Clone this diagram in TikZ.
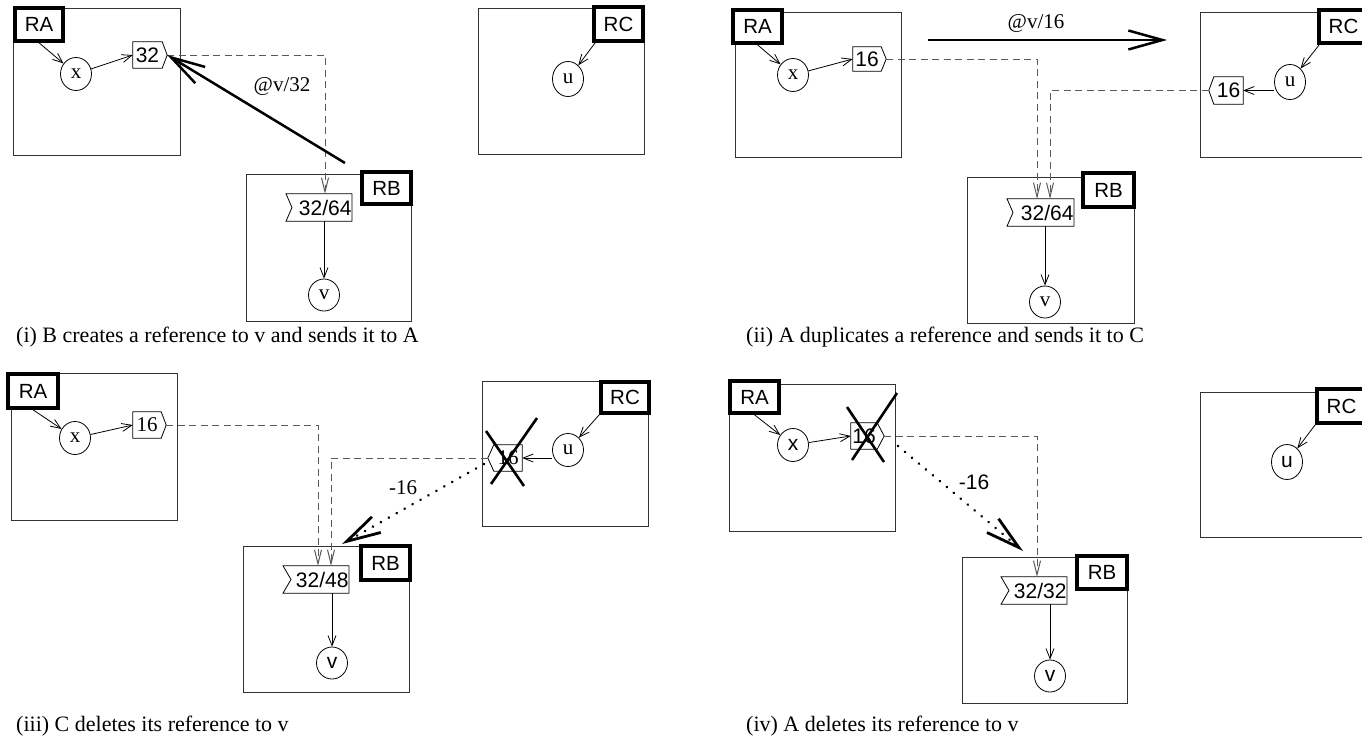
\documentclass[tikz,border=0pt]{standalone}
\usepackage{fontspec}
\setmainfont{Liberation Serif}
\setsansfont{Liberation Sans}
\usetikzlibrary{arrows.meta,shapes.geometric,calc}
\newcommand\myfs[1]{\fontsize{#1}{#1}\selectfont}
\begin{document}
\begin{tikzpicture}[x=1pt,y=-1pt,
  region/.style={draw=black!80, line width=1pt},
  lbl/.style={draw, line width=3.6pt, fill=white, inner sep=0pt, font=\sffamily\myfs{20.5}},
  obj/.style={draw, ellipse, inner sep=0pt, line width=0.8pt, minimum width=31pt, minimum height=33pt, font=\myfs{21}},
  refbox/.style={inner sep=0pt, font=\sffamily\myfs{21}},
  outline/.style={line width=0.8pt},
  flagbox/.style={inner xsep=0.3pt, inner ysep=0pt, text width=#1, align=right, minimum height=27pt, font=\sffamily\myfs{21}},
  arr/.style={-{Straight Barb[length=10pt,width=8pt]}, line width=0.8pt},
  dsh/.style={draw=black!65, line width=1pt, dash pattern=on 7pt off 4.5pt, -{Straight Barb[length=14pt,width=7pt]}},
  msg/.style={line width=2.5pt, -{Straight Barb[length=34pt,width=19pt]}},
  dotarr/.style={line width=2.8pt, line cap=round, dash pattern=on 0.1pt off 9pt, -{Straight Barb[length=34pt,width=18pt]}},
  xline/.style={line width=2.6pt},
  captxt/.style={anchor=base west, inner sep=0pt, font=\myfs{22}},
  lab/.style={inner sep=0pt, font=\myfs{21}},
]
\useasboundingbox (0,0) rectangle (1362,740);

% ================= panel (i)
\draw[region] (13,8) rectangle (180,155);
\draw[region] (246,174) rectangle (411,321);
\draw[region] (478,8) rectangle (644,154);
\node[lbl, minimum width=48pt, minimum height=33pt] (la1) at (39,24.5) {RA};
\node[lbl, minimum width=49pt, minimum height=32pt] (lb1) at (386.5,188) {RB};
\node[lbl, minimum width=49pt, minimum height=34pt] (lc1) at (618.5,24) {RC};
\node[obj] (x1) at (76,74) {x};
\node[refbox, minimum width=29pt, minimum height=26pt] (p1) at (147.5,55) {32};
\draw[outline] (p1.north west) -- (p1.north east) -- ([xshift=5pt]p1.east) -- (p1.south east) -- (p1.south west) -- cycle;
\coordinate (p1t) at ([xshift=5pt]p1.east);
\node[flagbox=65pt] (f1) at (319,207.5) {32/64};
\draw[outline] (f1.north west) -- (f1.north east) -- (f1.south east) -- (f1.south west) -- ([xshift=6pt]f1.west) -- cycle;
\node[obj, minimum height=32pt] (v1) at (324,295) {v};
\node[obj, minimum height=35pt] (u1) at (568,79) {u};
\draw[arr] (la1.south) -- (x1);
\draw[arr] (x1) -- (p1.west);
\draw[dsh] (p1t) -| ([xshift=6pt]f1.north);
\draw[arr] (f1.south -| v1) -- (v1);
\draw[arr] ([xshift=3pt]lc1.south west) -- (u1);
\coordinate (s1) at (345,163);
\draw[msg] (s1) -- (p1t);
\node[lab] (m1) at (282,86) {@v/32};
\node[captxt] (c1) at (16,342) {(i) B creates a reference to v and sends it to A};

% ================= panel (ii)
\draw[region] (735,12) rectangle (901,157);
\draw[region] (967,177) rectangle (1134,323);
\draw[region] (1200,12) rectangle (1380,157);
\node[lbl, minimum width=49pt, minimum height=33pt] (la2) at (757.5,26.5) {RA};
\node[lbl, minimum width=51pt, minimum height=34pt] (lb2) at (1108.5,190) {RB};
\node[lbl, minimum width=49pt, minimum height=33pt] (lc2) at (1343.5,26.5) {RC};
\node[obj] (x2) at (793,75) {x};
\node[refbox, minimum width=28pt, minimum height=24pt] (p2) at (867,59) {16};
\draw[outline] (p2.north west) -- (p2.north east) -- ([xshift=5pt]p2.east) -- (p2.south east) -- (p2.south west) -- cycle;
\coordinate (p2t) at ([xshift=5pt]p2.east);
\node[obj, minimum height=35pt] (u2) at (1290,82) {u};
\node[refbox, minimum width=29pt, minimum height=27pt] (q2) at (1228.5,90.5) {16};
\draw[outline] (q2.north east) -- (q2.north west) -- ([xshift=-5pt]q2.west) -- (q2.south west) -- (q2.south east) -- cycle;
\coordinate (q2t) at ([xshift=-5pt]q2.west);
\node[flagbox=66pt] (f2) at (1040.5,212.5) {32/64};
\draw[outline] (f2.north west) -- (f2.north east) -- (f2.south east) -- (f2.south west) -- ([xshift=6pt]f2.west) -- cycle;
\node[obj, minimum height=32pt] (v2) at (1045,302) {v};
\draw[arr] (la2.south) -- (x2);
\draw[arr] (x2) -- (p2.west);
\draw[arr] ([xshift=2pt]lc2.south west) -- (u2);
\draw[arr] (u2.west |- q2) -- (q2.east);
\draw[dsh] (p2t) -| ([xshift=-3.5pt]f2.north);
\draw[dsh] (q2t) -| ([xshift=9.5pt]f2.north);
\draw[arr] (f2.south -| v2) -- (v2);
\coordinate (s2) at (928,40);
\coordinate (e2) at (1167,40);
\draw[msg] (s2) -- (e2);
\node[lab] (m2) at (1036,23) {@v/16};
\node[captxt] (c2) at (746,342) {(ii) A duplicates a reference and sends it to C};

% ================= panel (iii)
\draw[region] (11,373) rectangle (177,520);
\draw[region] (243,546) rectangle (409,692);
\draw[region] (482,381) rectangle (648,526);
\node[lbl, minimum width=50pt, minimum height=34pt] (la3) at (33,391) {RA};
\node[lbl, minimum width=49pt, minimum height=34pt] (lb3) at (385.5,563) {RB};
\node[lbl, minimum width=48pt, minimum height=31pt] (lc3) at (625,397.5) {RC};
\node[obj] (x3) at (75,438) {x};
\node[refbox, font=\rmfamily\myfs{21}, minimum width=28pt, minimum height=26pt] (p3) at (147,425) {16};
\draw[outline] (p3.north west) -- (p3.north east) -- ([xshift=5pt]p3.east) -- (p3.south east) -- (p3.south west) -- cycle;
\coordinate (p3t) at ([xshift=5pt]p3.east);
\node[obj] (u3) at (568,450) {u};
\node[refbox, font=\rmfamily\myfs{21}, minimum width=28pt, minimum height=26pt] (q3) at (508,458) {16};
\draw[outline] (q3.north east) -- (q3.north west) -- ([xshift=-6pt]q3.west) -- (q3.south west) -- (q3.south east) -- cycle;
\coordinate (q3t) at ([xshift=-6pt]q3.west);
\draw[xline] (486,431) -- (524,486);
\draw[xline] (537,418) -- (491,484);
\node[flagbox=65pt] (f3) at (316,579.5) {32/48};
\draw[outline] (f3.north west) -- (f3.north east) -- (f3.south east) -- (f3.south west) -- ([xshift=8pt]f3.west) -- cycle;
\node[obj, font=\sffamily\myfs{21}, minimum height=32pt] (v3) at (332,663) {v};
\draw[arr] (la3.south) -- (x3);
\draw[arr] (x3) -- (p3.west);
\draw[arr] (lc3.south west) -- (u3);
\draw[arr] (u3.west |- q3) -- (q3.east);
\draw[dsh] (p3t) -| ([xshift=2pt]f3.north);
\draw[dsh] (q3t) -| ([xshift=15pt]f3.north);
\draw[arr] (f3.south -| v3) -- (v3);
\coordinate (s3) at (484,464);
\coordinate (e3) at (342,544);
\draw[dotarr] (s3) -- (e3);
\node[lab] (m3) at (403,488) {-16};
\node[captxt] (c3) at (16,731) {(iii) C deletes its reference to v};

% ================= panel (iv)
\draw[region] (729,384) rectangle (895,531);
\draw[region] (962,557) rectangle (1127,703);
\draw[region] (1200,392) rectangle (1380,537);
\node[lbl, minimum width=49pt, minimum height=32pt] (la4) at (754.5,397) {RA};
\node[lbl, minimum width=50pt, minimum height=33pt] (lb4) at (1102,572.5) {RB};
\node[lbl, minimum width=49pt, minimum height=34pt] (lc4) at (1341.5,406) {RC};
\node[obj, font=\sffamily\myfs{21}] (x4) at (793,445) {x};
\node[refbox, minimum width=26pt, minimum height=26pt] (p4) at (864,436) {16};
\draw[outline] (p4.north west) -- (p4.north east) -- ([xshift=7pt]p4.east) -- (p4.south east) -- (p4.south west) -- cycle;
\coordinate (p4t) at ([xshift=7pt]p4.east);
\draw[xline] (847,407) -- (884,462);
\draw[xline] (897,393) -- (852,460);
\node[flagbox=65pt] (f4) at (1034,590.5) {32/32};
\draw[outline] (f4.north west) -- (f4.north east) -- (f4.south east) -- (f4.south west) -- ([xshift=8pt]f4.west) -- cycle;
\node[obj, font=\sffamily\myfs{21}, minimum height=32pt] (v4) at (1050,676) {v};
\node[obj, font=\sffamily\myfs{21}, minimum height=35pt] (u4) at (1287,462) {u};
\draw[arr] (la4.south) -- (x4);
\draw[arr] (x4) -- (p4.west);
\draw[arr] (lc4.south west) -- (u4);
\draw[dsh] (p4t) -| ([xshift=3pt]f4.north);
\draw[arr] (f4.south -| v4) -- (v4);
\coordinate (s4) at (898,446);
\coordinate (e4) at (1023,551);
\draw[dotarr] (s4) -- (e4);
\node[lab, font=\sffamily\myfs{21}] (m4) at (974,482) {-16};
\node[captxt] (c4) at (746,731) {(iv) A deletes its reference to v};
\end{tikzpicture}
\end{document}
